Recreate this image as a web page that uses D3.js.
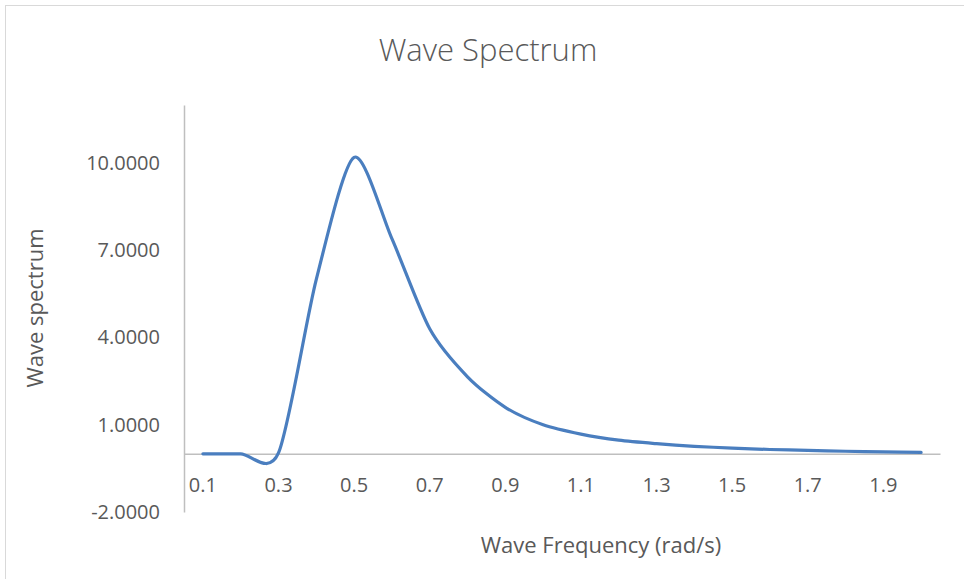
<!DOCTYPE html>
<html>
<head>
<meta charset="utf-8">
<script src="https://cdn.jsdelivr.net/npm/d3@7"></script>
<style>
  body { margin: 0; background: #fff; }
  text { font-family: "Open Sans", sans-serif; fill: #595959; }
</style>
</head>
<body>
<div id="chart"></div>
<script>
// data
var frequency = ["0.1","0.2","0.3","0.4","0.5","0.6","0.7","0.8","0.9","1.0",
                 "1.1","1.2","1.3","1.4","1.5","1.6","1.7","1.8","1.9","2.0"]
var spectrum = [0, 0, 0.03, 6.0, 10.2, 7.4, 4.3, 2.65, 1.6, 1.0,
                0.68, 0.47, 0.35, 0.26, 0.2, 0.15, 0.12, 0.09, 0.07, 0.05]
var yTicks = [-2, 1, 4, 7, 10]
var xLabels = ["0.1","0.3","0.5","0.7","0.9","1.1","1.3","1.5","1.7","1.9"]

var W = 964, H = 579
var margin = {top: 105, right: 24, bottom: 67, left: 184}
var width = W - margin.left - margin.right,
    height = H - margin.top - margin.bottom

var svg = d3.select("#chart")
  .append("svg")
    .attr("width", W)
    .attr("height", H)

// chart border
svg.append("rect")
  .attr("x", 5.5).attr("y", 5.5)
  .attr("width", 1000).attr("height", 1000)
  .style("fill", "none")
  .style("stroke", "#d9d9d9")

var g = svg.append("g")
  .attr("transform", "translate(" + margin.left + "," + margin.top + ")")

var x = d3.scaleBand()
  .domain(frequency)
  .range([0, width])
  .padding(0)

var y = d3.scaleLinear()
  .domain([-2, 12])
  .range([height, 0])

// y axis (no tick marks), plain hyphen for negatives like Excel
var yAxis = g.append("g")
  .call(d3.axisLeft(y).tickValues(yTicks).tickSize(0).tickPadding(24)
    .tickFormat(function(d) { return d.toFixed(4) }))
yAxis.select(".domain").style("stroke", "#bfbfbf").style("stroke-width", 1.5)
yAxis.selectAll("text").style("font-size", "20px").style("fill", "#595959")

// x axis crosses at 0
var xAxis = g.append("g")
  .attr("transform", "translate(0," + y(0) + ")")
  .call(d3.axisBottom(x).tickValues(xLabels).tickSize(0).tickPadding(24))
xAxis.select(".domain").style("stroke", "#bfbfbf").style("stroke-width", 1.5)
xAxis.selectAll("text").style("font-size", "20px").style("fill", "#595959")

// smoothed line
var line = d3.line()
  .x(function(d, i) { return x(frequency[i]) + x.bandwidth() / 2 })
  .y(function(d) { return y(d) })
  .curve(d3.curveCardinal.tension(0.2))

g.append("path")
  .datum(spectrum)
  .attr("d", line)
  .style("fill", "none")
  .style("stroke", "#4a7ebf")
  .style("stroke-width", 3.2)
  .style("stroke-linecap", "round")

// titles
svg.append("text")
  .attr("x", 488)
  .attr("y", 61)
  .attr("text-anchor", "middle")
  .style("font-size", "31px")
  .style("font-weight", 300)
  .text("Wave Spectrum")

svg.append("text")
  .attr("x", 601)
  .attr("y", 553)
  .attr("text-anchor", "middle")
  .style("font-size", "22px")
  .text("Wave Frequency (rad/s)")

svg.append("text")
  .attr("transform", "translate(43,308) rotate(-90)")
  .attr("text-anchor", "middle")
  .style("font-size", "22px")
  .text("Wave spectrum")
</script>
</body>
</html>
